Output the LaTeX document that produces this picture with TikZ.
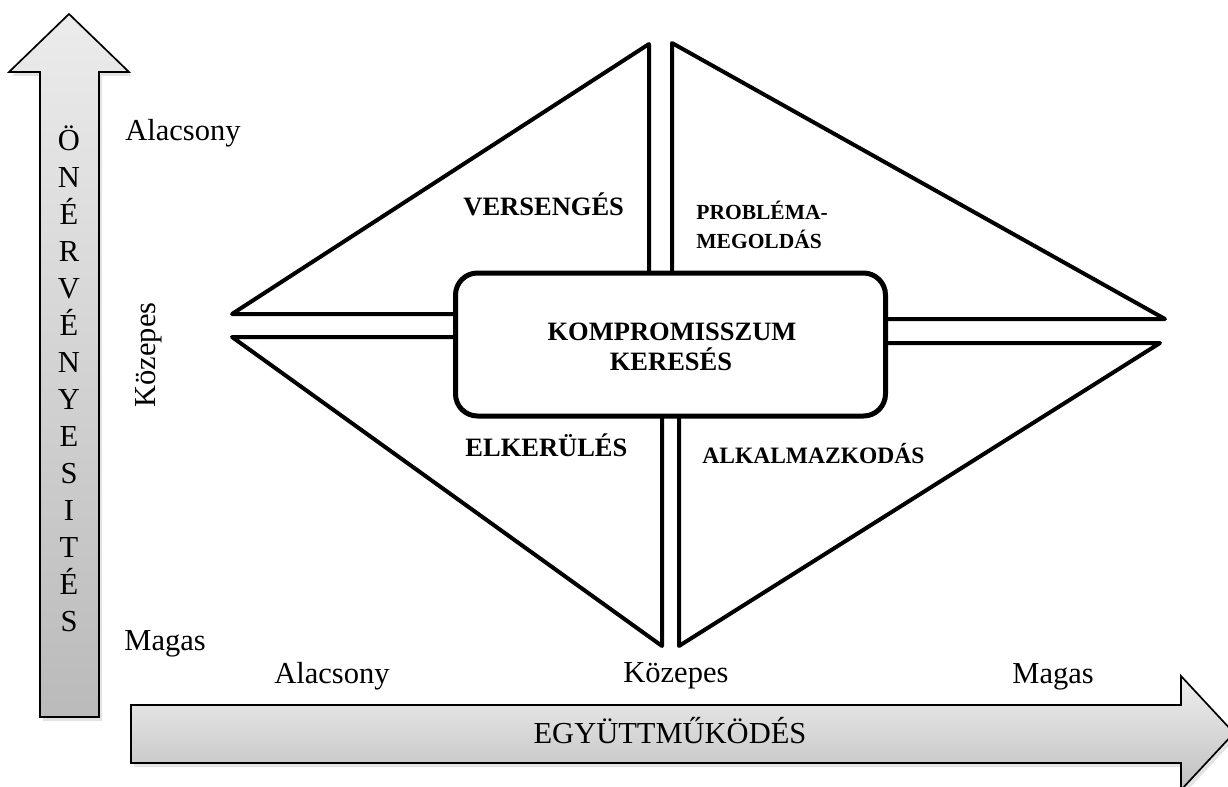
\documentclass[tikz,border=0pt]{standalone}
\usepackage{fontspec}
\setmainfont{Liberation Serif}
\usetikzlibrary{shadows}
\begin{document}
\begin{tikzpicture}[x=0.5pt,y=-0.5pt,
  reg/.style={font=\fontsize{15.25}{18}\selectfont, inner sep=0pt},
  lab/.style={font=\bfseries\fontsize{13.25}{15}\selectfont, inner sep=0pt},
  labsmall/.style={font=\bfseries\fontsize{10.75}{13}\selectfont, inner sep=0pt},
  labmid/.style={font=\bfseries\fontsize{11.75}{14}\selectfont, inner sep=0pt},
  tri/.style={draw, line width=2pt, line join=round},
  axarrow/.style={draw=black, line width=0.85pt,
    drop shadow={opacity=0.22, shadow xshift=1.5pt, shadow yshift=-2pt}},
  centerbox/.style={draw, line width=2.5pt, rounded corners=11pt, fill=white,
    minimum width=215pt, minimum height=71.5pt, inner sep=0pt}]
\useasboundingbox (0,0) rectangle (1228,787);
\clip (0,0) rectangle (1228,787);

% vertical axis arrow
\path[axarrow, top color=gray!15, bottom color=gray!54]
  (40,717) -- (40,72) -- (9,72) -- (69,14) -- (129,72) -- (99,72) -- (99,717) -- cycle;
% horizontal axis arrow
\path[axarrow, top color=gray!12, bottom color=gray!50]
  (131,705) -- (1181,705) -- (1181,676) -- (1234,733) -- (1181,790) -- (1181,763) -- (131,763) -- cycle;

% vertical letters
\foreach \c [count=\i from 0] in {Ö,N,É,R,V,É,N,Y,E,S,I,T,É,S}
  \node[reg, anchor=base] (v\i) at (69,{150+37*\i}) {\c};

\node[reg, anchor=base] (xaxis) at (670,743) {EGYÜTTMŰKÖDÉS};

% axis level labels
\node[reg, anchor=base west] (yalac) at (125,140) {Alacsony};
\node[reg, rotate=90, anchor=base] (ykoz) at (155,355) {Közepes};
\node[reg, anchor=base west] (ymagas) at (124,650) {Magas};
\node[reg, anchor=base west] (xalac) at (274,683) {Alacsony};
\node[reg, anchor=base west] (xkoz) at (623,682) {Közepes};
\node[reg, anchor=base west] (xmagas) at (1012,683) {Magas};

% four triangles
\path[tri] (649,44) -- (232,314) -- (649,314) -- cycle;
\path[tri] (672,43) -- (1165,319) -- (672,319) -- cycle;
\path[tri] (232,337) -- (662,646) -- (662,337) -- cycle;
\path[tri] (1160,343) -- (679,646) -- (679,343) -- cycle;

% central box
\node[centerbox] (komp) at (670.5,344.5) {};
\node[lab, anchor=base] (k1) at (672,340) {KOMPROMISSZUM};
\node[lab, anchor=base] (k2) at (671,370) {KERESÉS};

% quadrant labels
\node[lab, anchor=base west] (vers) at (463,215) {VERSENGÉS};
\node[labsmall, anchor=base west] (prob1) at (696,219) {PROBLÉMA-};
\node[labsmall, anchor=base west] (prob2) at (696,248) {MEGOLDÁS};
\node[lab, anchor=base west] (elker) at (465,456) {ELKERÜLÉS};
\node[labmid, anchor=base west] (alkal) at (702,463) {ALKALMAZKODÁS};
\end{tikzpicture}
\end{document}
